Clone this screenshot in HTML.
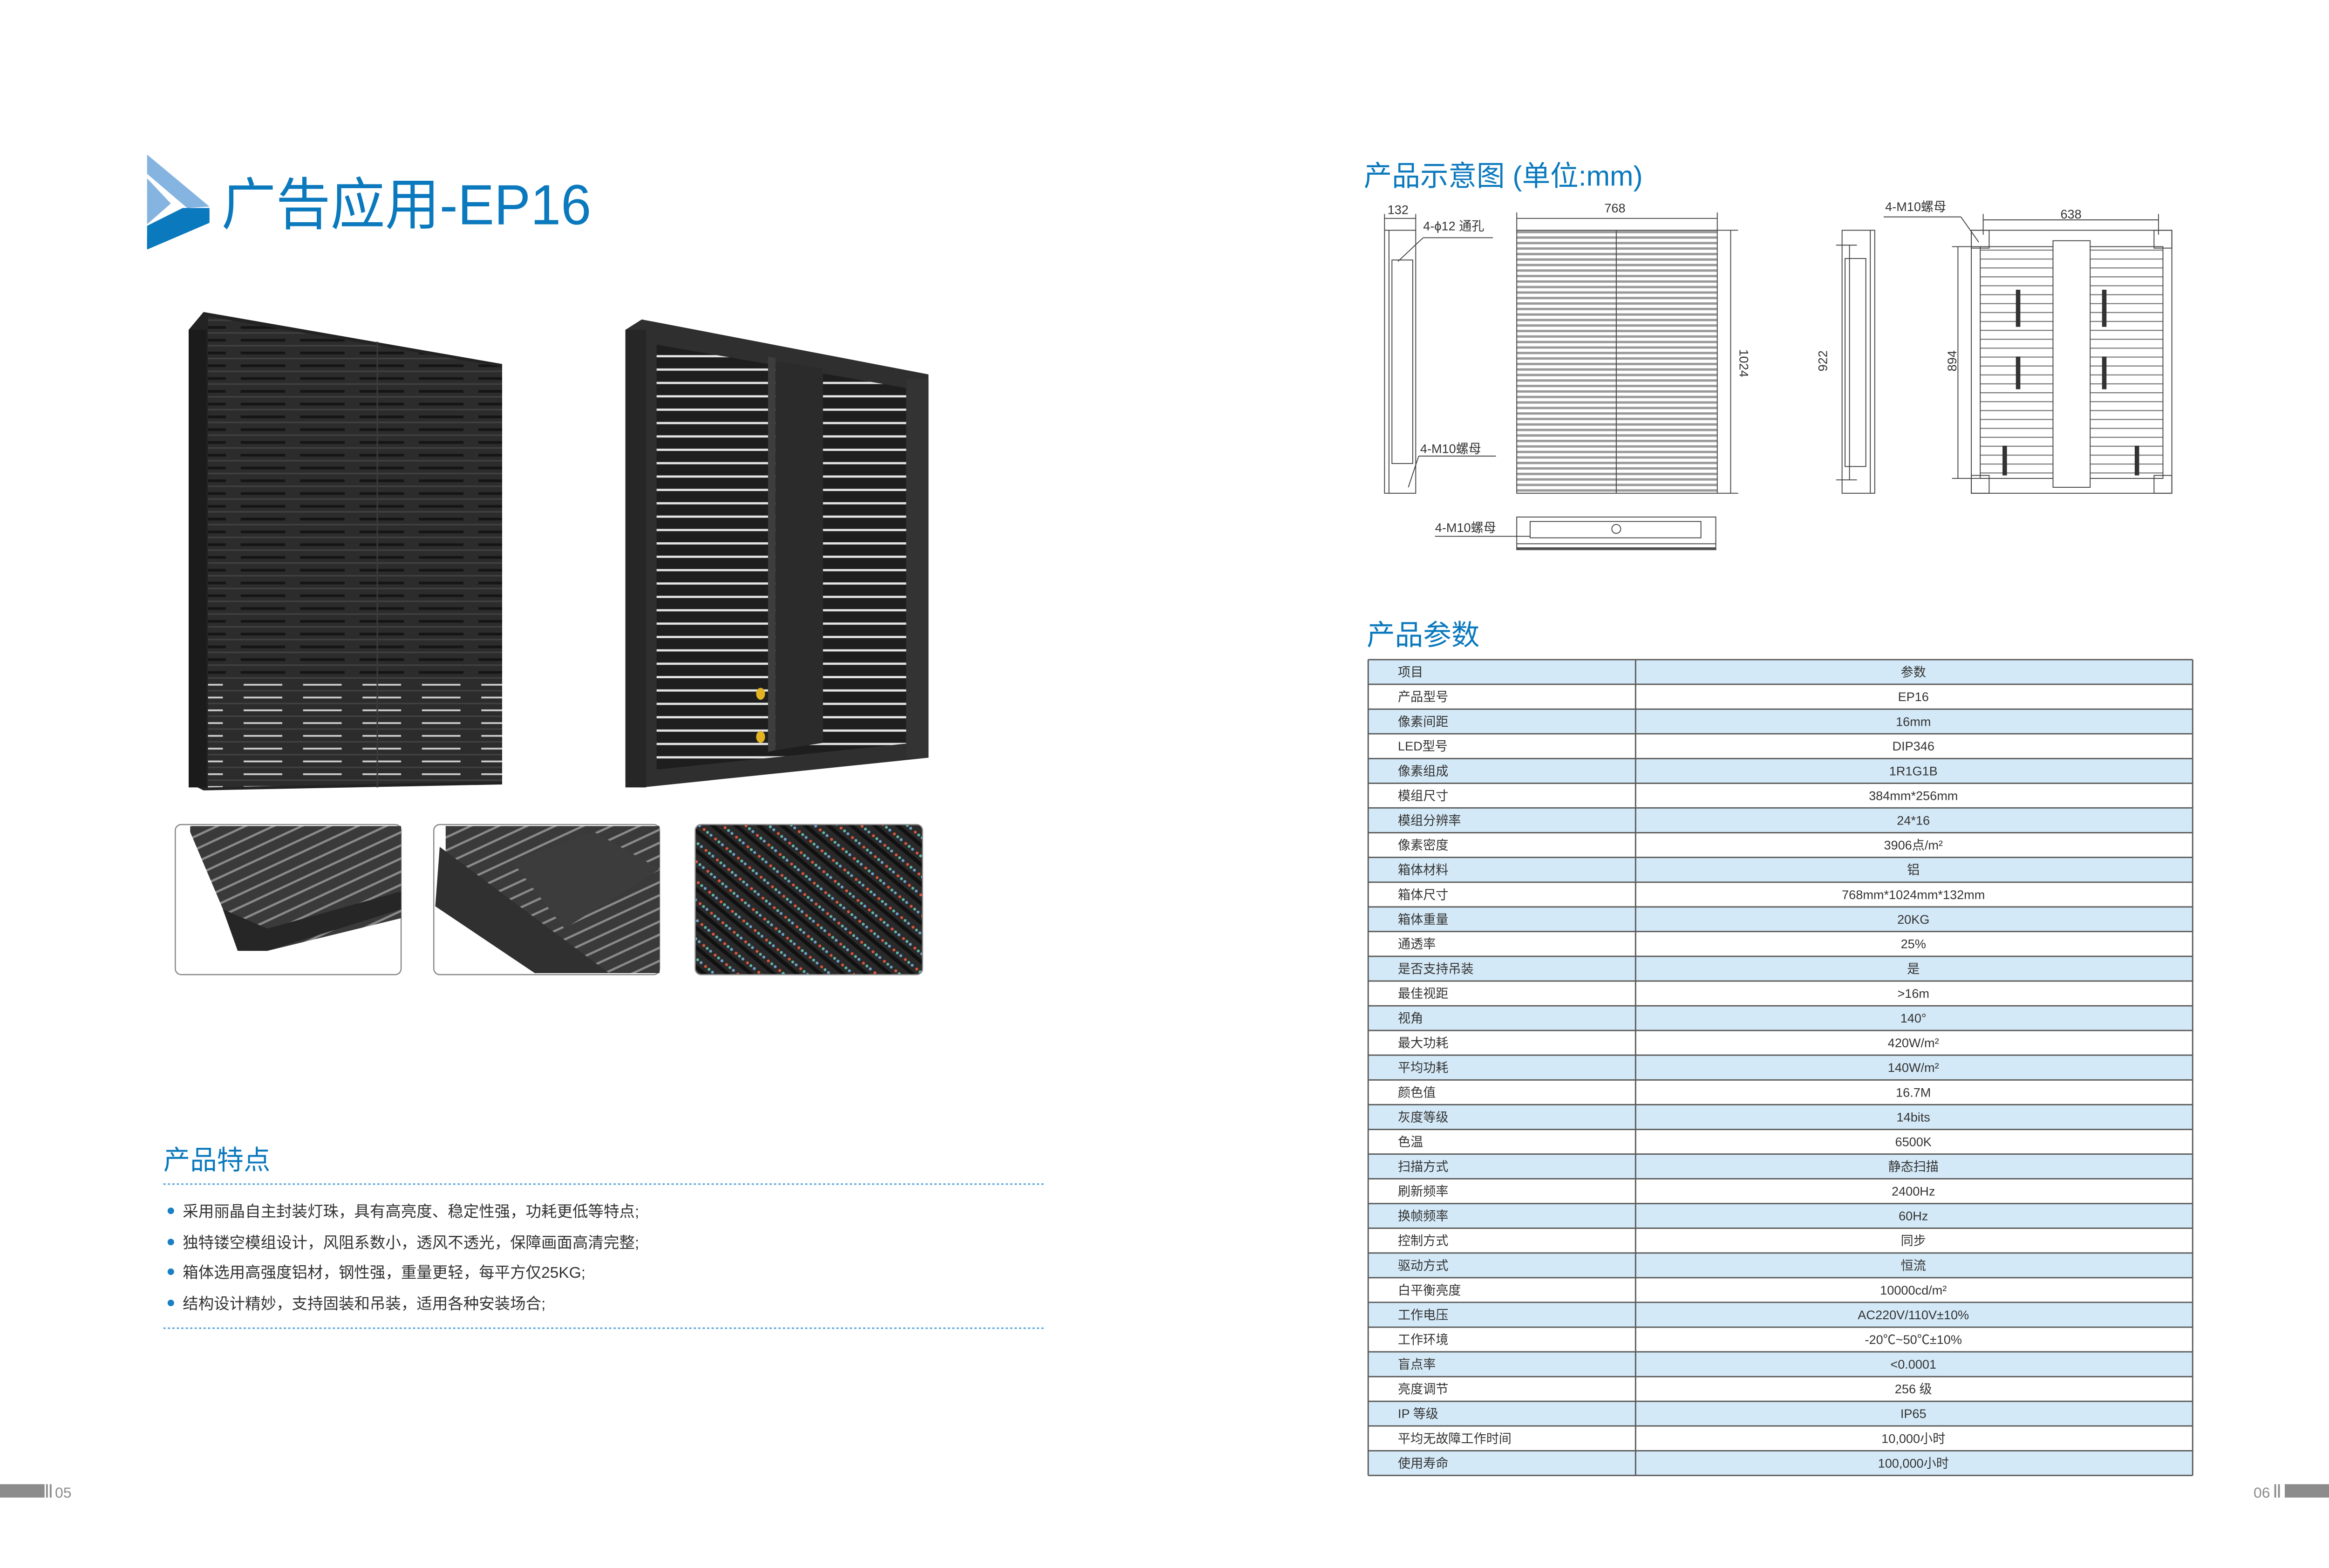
<!DOCTYPE html>
<html><head><meta charset="utf-8"><style>
html,body{margin:0;padding:0;background:#fff;overflow:hidden;}
svg{display:block;}
text{font-family:"Liberation Sans","Noto Sans CJK SC",sans-serif;}
</style></head><body>
<svg width="5031" height="3366" viewBox="0 0 1577.5 1055.4" preserveAspectRatio="none" xmlns="http://www.w3.org/2000/svg">
<defs>
<pattern id="ledfront" x="0" y="0" width="40" height="8.6" patternUnits="userSpaceOnUse">
<rect width="40" height="8.6" fill="#2c2c2c"/>
<rect y="0" width="40" height="1" fill="#414141"/>
<rect y="4.5" x="2" width="30" height="1.8" fill="#151515"/>
</pattern>
<pattern id="ledlow" x="0" y="0" width="40" height="8.6" patternUnits="userSpaceOnUse">
<rect width="40" height="8.6" fill="#2c2c2c"/>
<rect y="0" width="40" height="1" fill="#414141"/>
<rect y="4.5" x="4" width="26" height="1.2" fill="#cfcfcf"/>
</pattern>
<pattern id="rear" x="0" y="0" width="60" height="9" patternUnits="userSpaceOnUse">
<rect width="60" height="9" fill="#1e1e1e"/>
<rect y="5" width="60" height="1.5" fill="#e6e6e6"/>
</pattern>
<pattern id="drw" x="0" y="0" width="20" height="3.7" patternUnits="userSpaceOnUse">
<rect width="20" height="3.7" fill="#fff"/>
<rect width="20" height="1.6" fill="#9a9a9a"/>
</pattern>
<pattern id="drw2" x="0" y="0" width="20" height="6" patternUnits="userSpaceOnUse">
<rect width="20" height="6" fill="#fff"/>
<rect width="20" height="0.7" fill="#777"/>
</pattern>
<pattern id="dots" x="0" y="0" width="10" height="10" patternUnits="userSpaceOnUse" patternTransform="rotate(40)">
<rect width="10" height="10" fill="#2a2a2a"/>
<rect y="6" width="10" height="2.5" fill="#111"/>
<circle cx="2" cy="3" r="1" fill="#d8553c"/>
<circle cx="5" cy="3" r="1" fill="#5fb4a8"/>
<circle cx="8" cy="3" r="1" fill="#6fa0c8"/>
</pattern>
<pattern id="thumb" x="0" y="0" width="12" height="8" patternUnits="userSpaceOnUse" patternTransform="rotate(-25)">
<rect width="12" height="8" fill="#3a3a3a"/>
<rect y="5" width="12" height="1.5" fill="#8a8a8a"/>
</pattern>
</defs>

<!-- Title -->
<polygon points="99,104 141,139 126,140 99,117" fill="#86b4e0"/>
<polygon points="99,120 115,137 99,151" fill="#86b4e0"/>
<polygon points="141,140 141,148 99,167 99,152 123,140" fill="#0b79bd"/>
<polygon points="141,142 141,150 99,168 99,160" fill="#0b79bd"/>
<text x="149" y="151" font-size="38" fill="#0b79bd" textLength="249" lengthAdjust="spacingAndGlyphs">广告应用-EP16</text>

<!-- Left product panel -->
<polygon points="127,222 137,210 338,245 338,528 137,532 127,527" fill="#232323"/>
<polygon points="140,213 338,247 338,455 140,455" fill="url(#ledfront)"/>
<polygon points="140,455 338,455 338,526 140,530" fill="url(#ledlow)"/>
<rect x="127" y="222" width="12" height="308" fill="#1b1b1b"/>
<line x1="254" y1="230" x2="254" y2="530" stroke="#3a3a3a" stroke-width="1"/>

<!-- Right product panel -->
<polygon points="421,222 432,215 625,252 625,510 432,530 421,526" fill="#2f2f2f"/>
<polygon points="442,232 615,262 615,500 442,518" fill="url(#rear)"/>
<rect x="421" y="222" width="14" height="308" fill="#262626"/>
<polygon points="522,243 554,248 554,500 522,505" fill="#2b2b2b"/>
<polygon points="517,240 522,241 522,505 517,506" fill="#3d3d3d"/>
<rect x="610" y="255" width="15" height="255" fill="#333"/>
<ellipse cx="512" cy="467" rx="3" ry="4" fill="#e3b322"/>
<ellipse cx="512" cy="496" rx="3" ry="4" fill="#e3b322"/>

<!-- Thumbnails -->
<rect x="118" y="555" width="152" height="101" rx="4" fill="#fff" stroke="#8a8a8a" stroke-width="0.8"/>
<polygon points="128,556 270,556 270,618 180,640 162,640 128,560" fill="url(#thumb)"/>
<polygon points="150,612 180,625 270,600 270,612 180,640 160,640" fill="#262626"/>
<rect x="292" y="555" width="152" height="101" rx="4" fill="#fff" stroke="#8a8a8a" stroke-width="0.8"/>
<polygon points="300,556 444,556 444,655 410,655 300,590" fill="url(#thumb)"/>
<polygon points="296,570 410,655 360,655 293,610" fill="#303030"/>
<polygon points="345,580 400,560 444,585 380,625" fill="#3c3c3c"/>
<rect x="468" y="555" width="153" height="101" rx="4" fill="url(#dots)" stroke="#8a8a8a" stroke-width="0.8"/>

<!-- 产品特点 -->
<text x="110" y="787" font-size="18" fill="#0b79bd">产品特点</text>
<line x1="110" y1="797" x2="703" y2="797" stroke="#5aa6dc" stroke-width="1" stroke-dasharray="1.5,1.5"/>
<g font-size="10.5" fill="#333">
<circle cx="115" cy="815" r="2.2" fill="#1a7fc4"/><text x="123" y="819">采用丽晶自主封装灯珠，具有高亮度、稳定性强，功耗更低等特点;</text>
<circle cx="115" cy="836" r="2.2" fill="#1a7fc4"/><text x="123" y="840">独特镂空模组设计，风阻系数小，透风不透光，保障画面高清完整;</text>
<circle cx="115" cy="856" r="2.2" fill="#1a7fc4"/><text x="123" y="860">箱体选用高强度铝材，钢性强，重量更轻，每平方仅25KG;</text>
<circle cx="115" cy="877" r="2.2" fill="#1a7fc4"/><text x="123" y="881">结构设计精妙，支持固装和吊装，适用各种安装场合;</text>
</g>
<line x1="110" y1="894" x2="703" y2="894" stroke="#5aa6dc" stroke-width="1" stroke-dasharray="1.5,1.5"/>

<!-- 产品示意图 -->
<text x="918" y="125" font-size="19" fill="#0b79bd">产品示意图 (单位:mm)</text>
<g stroke="#444" stroke-width="0.6" fill="none">
<rect x="932" y="155" width="21" height="177" fill="#fff"/>
<line x1="935" y1="155" x2="935" y2="332"/>
<rect x="937" y="175" width="14" height="137"/>
<line x1="932" y1="147" x2="953" y2="147"/>
<line x1="932" y1="144" x2="932" y2="155"/><line x1="953" y1="144" x2="953" y2="155"/>
<line x1="941" y1="176" x2="958" y2="160"/><line x1="958" y1="160" x2="1005" y2="160"/>
<line x1="948" y1="328" x2="955" y2="307"/><line x1="955" y1="307" x2="1007" y2="307"/>
<rect x="1021" y="155" width="135" height="177" fill="url(#drw)"/>
<line x1="1088" y1="155" x2="1088" y2="332"/>
<line x1="1021" y1="147" x2="1156" y2="147"/>
<line x1="1021" y1="143" x2="1021" y2="155"/><line x1="1156" y1="143" x2="1156" y2="155"/>
<line x1="1165" y1="155" x2="1165" y2="332"/>
<line x1="1156" y1="155" x2="1170" y2="155"/><line x1="1156" y1="332" x2="1170" y2="332"/>
<rect x="1021" y="348" width="134" height="22" fill="#fff"/>
<rect x="1030" y="351" width="115" height="11"/>
<line x1="1021" y1="366" x2="1155" y2="366"/>
<line x1="1021" y1="369" x2="1155" y2="369" stroke-width="1.2"/>
<circle cx="1088" cy="356" r="3"/>
<line x1="966" y1="361" x2="1030" y2="361"/>
<rect x="1240" y="155" width="22" height="177" fill="#fff"/>
<rect x="1242" y="174" width="14" height="140"/>
<line x1="1259" y1="155" x2="1259" y2="332"/>
<line x1="1245" y1="165" x2="1245" y2="323"/>
<line x1="1236" y1="165" x2="1250" y2="165"/><line x1="1236" y1="323" x2="1250" y2="323"/>
<rect x="1327" y="155" width="135" height="177" fill="#fff"/>
<rect x="1333" y="166" width="123" height="156" fill="url(#drw2)"/>
<rect x="1382" y="162" width="25" height="166" fill="#fff"/>
<rect x="1327" y="155" width="12" height="12"/><rect x="1450" y="155" width="12" height="12"/>
<rect x="1327" y="320" width="12" height="12"/><rect x="1450" y="320" width="12" height="12"/>
<line x1="1335" y1="148" x2="1453" y2="148"/>
<line x1="1335" y1="144" x2="1335" y2="158"/><line x1="1453" y1="144" x2="1453" y2="158"/>
<line x1="1318" y1="166" x2="1318" y2="322"/>
<line x1="1314" y1="166" x2="1333" y2="166"/><line x1="1314" y1="322" x2="1333" y2="322"/>
<line x1="1268" y1="146" x2="1320" y2="146"/><line x1="1320" y1="146" x2="1332" y2="163"/>
</g>
<g fill="#333" stroke="none">
<rect x="1357" y="195" width="3" height="25"/><rect x="1415" y="195" width="3" height="25"/>
<rect x="1357" y="240" width="3" height="22"/><rect x="1415" y="240" width="3" height="22"/>
<rect x="1348" y="300" width="3" height="20"/><rect x="1437" y="300" width="3" height="20"/>
</g>
<g font-size="8.5" fill="#333">
<text x="934" y="144">132</text>
<text x="1080" y="143">768</text>
<text x="958" y="155">4-ϕ12 通孔</text>
<text x="956" y="305">4-M10螺母</text>
<text x="966" y="358">4-M10螺母</text>
<text x="1269" y="142">4-M10螺母</text>
<text x="1387" y="147">638</text>
<text transform="translate(1171,235) rotate(90)">1024</text>
<text transform="translate(1230,250) rotate(-90)">922</text>
<text transform="translate(1317,250) rotate(-90)">894</text>
</g>

<!-- 产品参数 -->
<text x="920" y="434" font-size="19" fill="#0b79bd">产品参数</text>
<rect x="921" y="444" width="555" height="549" fill="#fff"/>
<g font-size="8.5" fill="#333" stroke="none">
<rect x="921" y="444.0" width="555" height="16.64" fill="#d4e9f7"/><text x="941" y="455.3">项目</text><text x="1288" y="455.3" text-anchor="middle">参数</text>
<text x="941" y="471.9">产品型号</text><text x="1288" y="471.9" text-anchor="middle">EP16</text>
<rect x="921" y="477.3" width="555" height="16.64" fill="#d4e9f7"/><text x="941" y="488.6">像素间距</text><text x="1288" y="488.6" text-anchor="middle">16mm</text>
<text x="941" y="505.2">LED型号</text><text x="1288" y="505.2" text-anchor="middle">DIP346</text>
<rect x="921" y="510.6" width="555" height="16.64" fill="#d4e9f7"/><text x="941" y="521.9">像素组成</text><text x="1288" y="521.9" text-anchor="middle">1R1G1B</text>
<text x="941" y="538.5">模组尺寸</text><text x="1288" y="538.5" text-anchor="middle">384mm*256mm</text>
<rect x="921" y="543.8" width="555" height="16.64" fill="#d4e9f7"/><text x="941" y="555.1">模组分辨率</text><text x="1288" y="555.1" text-anchor="middle">24*16</text>
<text x="941" y="571.8">像素密度</text><text x="1288" y="571.8" text-anchor="middle">3906点/m²</text>
<rect x="921" y="577.1" width="555" height="16.64" fill="#d4e9f7"/><text x="941" y="588.4">箱体材料</text><text x="1288" y="588.4" text-anchor="middle">铝</text>
<text x="941" y="605.1">箱体尺寸</text><text x="1288" y="605.1" text-anchor="middle">768mm*1024mm*132mm</text>
<rect x="921" y="610.4" width="555" height="16.64" fill="#d4e9f7"/><text x="941" y="621.7">箱体重量</text><text x="1288" y="621.7" text-anchor="middle">20KG</text>
<text x="941" y="638.3">通透率</text><text x="1288" y="638.3" text-anchor="middle">25%</text>
<rect x="921" y="643.7" width="555" height="16.64" fill="#d4e9f7"/><text x="941" y="655.0">是否支持吊装</text><text x="1288" y="655.0" text-anchor="middle">是</text>
<text x="941" y="671.6">最佳视距</text><text x="1288" y="671.6" text-anchor="middle">&gt;16m</text>
<rect x="921" y="677.0" width="555" height="16.64" fill="#d4e9f7"/><text x="941" y="688.3">视角</text><text x="1288" y="688.3" text-anchor="middle">140°</text>
<text x="941" y="704.9">最大功耗</text><text x="1288" y="704.9" text-anchor="middle">420W/m²</text>
<rect x="921" y="710.2" width="555" height="16.64" fill="#d4e9f7"/><text x="941" y="721.5">平均功耗</text><text x="1288" y="721.5" text-anchor="middle">140W/m²</text>
<text x="941" y="738.2">颜色值</text><text x="1288" y="738.2" text-anchor="middle">16.7M</text>
<rect x="921" y="743.5" width="555" height="16.64" fill="#d4e9f7"/><text x="941" y="754.8">灰度等级</text><text x="1288" y="754.8" text-anchor="middle">14bits</text>
<text x="941" y="771.5">色温</text><text x="1288" y="771.5" text-anchor="middle">6500K</text>
<rect x="921" y="776.8" width="555" height="16.64" fill="#d4e9f7"/><text x="941" y="788.1">扫描方式</text><text x="1288" y="788.1" text-anchor="middle">静态扫描</text>
<text x="941" y="804.7">刷新频率</text><text x="1288" y="804.7" text-anchor="middle">2400Hz</text>
<rect x="921" y="810.1" width="555" height="16.64" fill="#d4e9f7"/><text x="941" y="821.4">换帧频率</text><text x="1288" y="821.4" text-anchor="middle">60Hz</text>
<text x="941" y="838.0">控制方式</text><text x="1288" y="838.0" text-anchor="middle">同步</text>
<rect x="921" y="843.4" width="555" height="16.64" fill="#d4e9f7"/><text x="941" y="854.7">驱动方式</text><text x="1288" y="854.7" text-anchor="middle">恒流</text>
<text x="941" y="871.3">白平衡亮度</text><text x="1288" y="871.3" text-anchor="middle">10000cd/m²</text>
<rect x="921" y="876.6" width="555" height="16.64" fill="#d4e9f7"/><text x="941" y="887.9">工作电压</text><text x="1288" y="887.9" text-anchor="middle">AC220V/110V±10%</text>
<text x="941" y="904.6">工作环境</text><text x="1288" y="904.6" text-anchor="middle">-20℃~50℃±10%</text>
<rect x="921" y="909.9" width="555" height="16.64" fill="#d4e9f7"/><text x="941" y="921.2">盲点率</text><text x="1288" y="921.2" text-anchor="middle">&lt;0.0001</text>
<text x="941" y="937.9">亮度调节</text><text x="1288" y="937.9" text-anchor="middle">256 级</text>
<rect x="921" y="943.2" width="555" height="16.64" fill="#d4e9f7"/><text x="941" y="954.5">IP 等级</text><text x="1288" y="954.5" text-anchor="middle">IP65</text>
<text x="941" y="971.2">平均无故障工作时间</text><text x="1288" y="971.2" text-anchor="middle">10,000小时</text>
<rect x="921" y="976.5" width="555" height="16.64" fill="#d4e9f7"/><text x="941" y="987.8">使用寿命</text><text x="1288" y="987.8" text-anchor="middle">100,000小时</text>
</g>
<g stroke="#5a5a5a" stroke-width="0.9">
<line x1="921" y1="444.0" x2="1476" y2="444.0"/><line x1="921" y1="460.6" x2="1476" y2="460.6"/><line x1="921" y1="477.3" x2="1476" y2="477.3"/><line x1="921" y1="493.9" x2="1476" y2="493.9"/><line x1="921" y1="510.6" x2="1476" y2="510.6"/><line x1="921" y1="527.2" x2="1476" y2="527.2"/><line x1="921" y1="543.8" x2="1476" y2="543.8"/><line x1="921" y1="560.5" x2="1476" y2="560.5"/><line x1="921" y1="577.1" x2="1476" y2="577.1"/><line x1="921" y1="593.8" x2="1476" y2="593.8"/><line x1="921" y1="610.4" x2="1476" y2="610.4"/><line x1="921" y1="627.0" x2="1476" y2="627.0"/><line x1="921" y1="643.7" x2="1476" y2="643.7"/><line x1="921" y1="660.3" x2="1476" y2="660.3"/><line x1="921" y1="677.0" x2="1476" y2="677.0"/><line x1="921" y1="693.6" x2="1476" y2="693.6"/><line x1="921" y1="710.2" x2="1476" y2="710.2"/><line x1="921" y1="726.9" x2="1476" y2="726.9"/><line x1="921" y1="743.5" x2="1476" y2="743.5"/><line x1="921" y1="760.2" x2="1476" y2="760.2"/><line x1="921" y1="776.8" x2="1476" y2="776.8"/><line x1="921" y1="793.4" x2="1476" y2="793.4"/><line x1="921" y1="810.1" x2="1476" y2="810.1"/><line x1="921" y1="826.7" x2="1476" y2="826.7"/><line x1="921" y1="843.4" x2="1476" y2="843.4"/><line x1="921" y1="860.0" x2="1476" y2="860.0"/><line x1="921" y1="876.6" x2="1476" y2="876.6"/><line x1="921" y1="893.3" x2="1476" y2="893.3"/><line x1="921" y1="909.9" x2="1476" y2="909.9"/><line x1="921" y1="926.6" x2="1476" y2="926.6"/><line x1="921" y1="943.2" x2="1476" y2="943.2"/><line x1="921" y1="959.8" x2="1476" y2="959.8"/><line x1="921" y1="976.5" x2="1476" y2="976.5"/><line x1="921" y1="993.1" x2="1476" y2="993.1"/>
<line x1="921" y1="444" x2="921" y2="993.1"/><line x1="1101" y1="444" x2="1101" y2="993.1"/><line x1="1476" y1="444" x2="1476" y2="993.1"/>
</g>

<!-- page numbers -->
<rect x="0" y="999" width="30" height="9" fill="#8c8c8c"/>
<rect x="31" y="999" width="1.2" height="9" fill="#8c8c8c"/><rect x="33.5" y="999" width="1.2" height="9" fill="#8c8c8c"/>
<text x="37" y="1008" font-size="10" fill="#8c8c8c">05</text>
<text x="1517" y="1008" font-size="10" fill="#8c8c8c">06</text>
<rect x="1531" y="999" width="1.2" height="9" fill="#8c8c8c"/><rect x="1533.5" y="999" width="1.2" height="9" fill="#8c8c8c"/>
<rect x="1538" y="999" width="30" height="9" fill="#8c8c8c"/>
</svg>
</body></html>
